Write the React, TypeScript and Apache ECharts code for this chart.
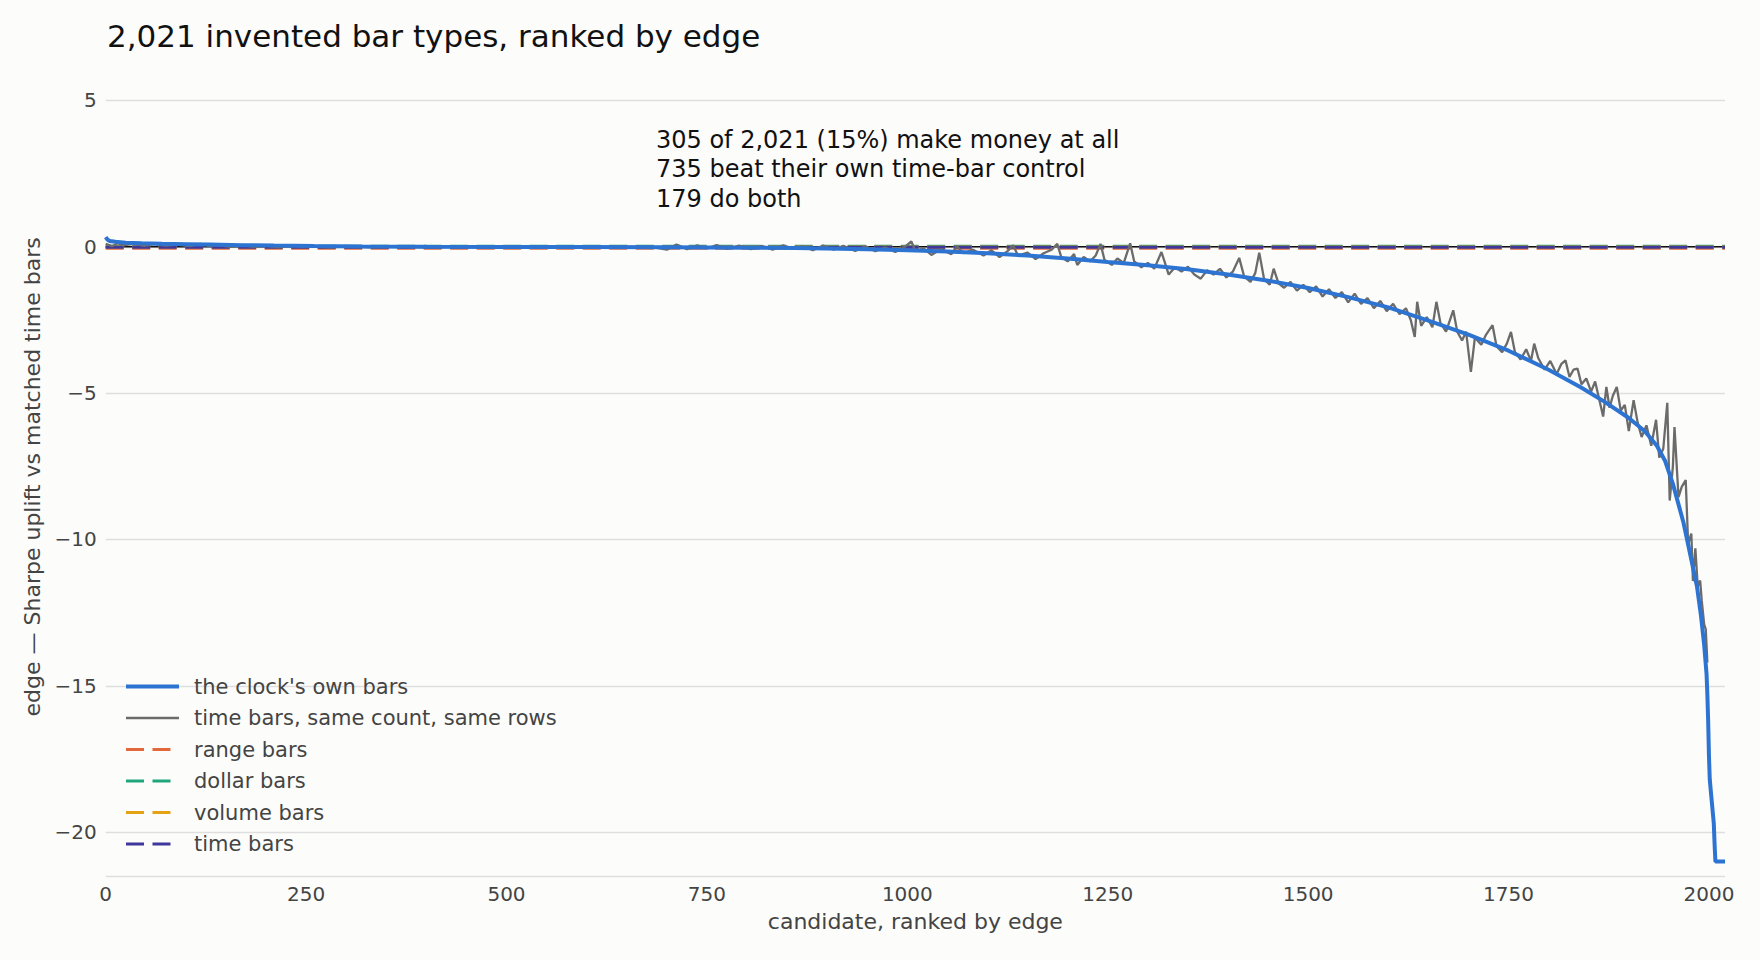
import React, { useEffect, useRef } from "react";
import * as echarts from "echarts";

// ---- data ----
const titleText = "2,021 invented bar types, ranked by edge";
const xAxisName = "candidate, ranked by edge";
const yAxisName = "edge \u2014 Sharpe uplift vs matched time bars";
const annotationLines = [
  "305 of 2,021 (15%) make money at all",
  "735 beat their own time-bar control",
  "179 do both",
];

const X_MIN = 0;
const X_MAX = 2020;
const X_STEP = 250;
const Y_MIN = -21.52;
const Y_MAX = 5.8;

// the clock's own bars (ranked edge), [candidate, edge]
const clockOwnBars: [number, number][] = [
  [0, 0.33], [2, 0.25], [5, 0.2], [12, 0.17], [25, 0.14], [45, 0.12], [70, 0.1],
  [100, 0.09], [130, 0.075], [170, 0.055], [210, 0.04], [260, 0.025], [320, 0.01],
  [400, 0.0], [500, -0.005], [600, -0.01], [700, -0.02], [800, -0.03], [860, -0.045],
  [900, -0.06], [950, -0.085], [1000, -0.12], [1050, -0.16], [1100, -0.22],
  [1150, -0.3], [1200, -0.4], [1250, -0.52], [1300, -0.63], [1350, -0.77],
  [1400, -0.95], [1450, -1.16], [1500, -1.41], [1550, -1.72], [1600, -2.07],
  [1650, -2.52], [1700, -3.0], [1750, -3.55], [1800, -4.2], [1840, -4.8],
  [1870, -5.3], [1900, -5.85], [1920, -6.3], [1935, -6.8], [1945, -7.3],
  [1955, -8.1], [1962, -8.8], [1968, -9.4], [1975, -10.3], [1980, -10.95],
  [1985, -11.6], [1990, -12.6], [1994, -13.6], [1997, -14.6], [1998, -15.3],
  [1999, -16.2], [2000, -17.4], [2001, -18.2], [2003, -18.8], [2005, -19.4],
  [2006, -19.7], [2007, -20.4], [2008, -21.0], [2020, -21.0],
];

// time bars, same count, same rows, [candidate, edge]
const timeControl: [number, number][] = [
  [0, 0.1], [8, 0.02], [15, 0.12], [22, 0.05], [35, 0.1], [48, 0.03], [60, 0.09],
  [75, 0.04], [90, 0.07], [105, 0.02], [118, 0.1], [128, 0.03], [140, 0.06],
  [155, 0.0], [170, 0.05], [185, 0.0], [200, 0.04], [215, -0.02], [232, 0.06],
  [245, 0.0], [260, 0.03], [280, -0.03], [300, 0.02], [330, -0.02], [360, 0.01],
  [400, -0.02], [440, 0.01], [480, -0.03], [520, 0.0], [560, -0.03], [600, 0.0],
  [640, -0.04], [680, 0.0], [700, -0.1], [712, 0.08], [725, -0.08], [738, 0.05],
  [750, -0.06], [762, 0.06], [775, -0.07], [790, 0.04], [805, -0.08], [818, 0.03],
  [832, -0.1], [845, 0.05], [858, -0.07], [870, 0.02], [882, -0.12], [895, 0.04],
  [908, -0.1], [920, 0.03], [935, -0.14], [948, 0.02], [960, -0.15], [972, -0.02],
  [985, -0.18], [998, 0.02], [1005, 0.18], [1010, -0.15], [1020, -0.05],
  [1030, -0.28], [1042, -0.08], [1055, -0.25], [1062, 0.02], [1070, -0.22],
  [1082, -0.1], [1095, -0.3], [1105, -0.12], [1115, -0.35], [1125, -0.15],
  [1132, 0.05], [1138, -0.3], [1150, -0.2], [1160, -0.42], [1170, -0.22],
  [1180, -0.1], [1187, 0.1], [1192, -0.35], [1200, -0.5], [1208, -0.25],
  [1212, -0.62], [1220, -0.35], [1228, -0.5], [1235, -0.3], [1241, 0.1],
  [1246, -0.45], [1255, -0.62], [1262, -0.4], [1270, -0.55], [1278, 0.12],
  [1283, -0.5], [1292, -0.7], [1300, -0.55], [1308, -0.75], [1317, -0.18],
  [1322, -0.6], [1326, -0.95], [1334, -0.7], [1342, -0.85], [1350, -0.68],
  [1358, -0.95], [1366, -1.09], [1374, -0.8], [1382, -0.95], [1390, -0.75],
  [1398, -1.05], [1406, -0.85], [1414, -0.38], [1420, -1.0], [1428, -1.2],
  [1434, -0.9], [1439, -0.2], [1445, -1.1], [1452, -1.3], [1457, -0.75],
  [1463, -1.25], [1470, -1.4], [1478, -1.2], [1486, -1.5], [1494, -1.3],
  [1502, -1.55], [1510, -1.35], [1518, -1.7], [1526, -1.45], [1534, -1.75],
  [1542, -1.55], [1550, -1.9], [1558, -1.6], [1566, -1.95], [1574, -1.75],
  [1582, -2.1], [1590, -1.85], [1598, -2.2], [1606, -1.95], [1614, -2.3],
  [1622, -2.1], [1628, -2.5], [1633, -3.08], [1636, -1.88], [1641, -2.7],
  [1648, -2.4], [1655, -2.75], [1660, -1.88], [1665, -2.6], [1672, -2.9],
  [1681, -2.17], [1686, -2.9], [1692, -3.2], [1697, -2.9], [1703, -4.27],
  [1708, -3.1], [1716, -3.35], [1722, -3.0], [1730, -2.68], [1735, -3.4],
  [1742, -3.6], [1748, -3.3], [1753, -2.91], [1758, -3.6], [1765, -3.85],
  [1772, -3.5], [1778, -3.9], [1782, -3.31], [1787, -3.8], [1795, -4.2],
  [1802, -3.9], [1810, -4.35], [1816, -4.0], [1821, -3.88], [1826, -4.45],
  [1831, -4.2], [1836, -4.16], [1841, -4.7], [1847, -4.5], [1853, -4.95],
  [1858, -4.6], [1863, -5.2], [1868, -5.8], [1872, -4.79], [1876, -5.5],
  [1880, -5.1], [1885, -4.79], [1890, -5.6], [1895, -5.4], [1900, -6.3],
  [1906, -5.24], [1911, -6.0], [1916, -6.5], [1922, -6.1], [1928, -6.8],
  [1934, -5.91], [1938, -7.2], [1943, -6.9], [1948, -5.33], [1951, -8.67],
  [1955, -7.5], [1957, -6.16], [1962, -8.55], [1966, -8.2], [1971, -7.97],
  [1974, -10.14], [1978, -9.8], [1980, -11.42], [1983, -10.3], [1986, -11.6],
  [1989, -11.4], [1991, -12.1], [1994, -12.9], [1996, -13.07], [1998, -14.2],
];

// reference bar types (flat edge across all candidates)
const barTypeNames = ["range bars", "dollar bars", "volume bars", "time bars"];
const barTypeEdges = [-0.05, 0.02, -0.01, -0.02];
const zeroEdge = 0;

const seriesNames = {
  clock: "the clock's own bars",
  control: "time bars, same count, same rows",
};

// ---- styles ----
const FONT = "DejaVu Sans";
const BG = "#fcfcfa";
const CLOCK_COLOR = "#2d74d2";
const CONTROL_COLOR = "#6b6b6b";
const barTypeColors = ["#e2673b", "#1fa67c", "#e3a315", "#3f379c"];
const DASH = [18, 8.5];

const fmtMinus = (v: number) => String(v).replace("-", "\u2212");

export default function App() {
  const ref = useRef<HTMLDivElement>(null);

  useEffect(() => {
    document.body.style.margin = "0";
    document.body.style.background = BG;
    if (!ref.current) return;
    const chart = echarts.init(ref.current, undefined, { renderer: "svg" });

    const flat = (v: number) => [
      [X_MIN, v],
      [X_MAX, v],
    ];

    const option: any = {
      animation: false,
      backgroundColor: BG,
      textStyle: { fontFamily: FONT },
      title: {
        text: titleText,
        left: 102,
        top: 15.5,
        textStyle: { fontFamily: FONT, fontSize: 31, fontWeight: "normal", color: "#111111" },
      },
      grid: { left: 105.7, right: 35, top: 77, bottom: 83.3, containLabel: false },
      legend: {
        orient: "vertical",
        left: 124,
        top: 676,
        padding: 0,
        itemWidth: 53,
        itemHeight: 20,
        itemGap: 10.5,
        itemStyle: { opacity: 0 },
        data: [
          { name: seriesNames.clock, lineStyle: { color: CLOCK_COLOR, width: 4, type: "solid" } },
          { name: seriesNames.control, lineStyle: { color: CONTROL_COLOR, width: 2.4, type: "solid" } },
          ...barTypeNames.map((n, i) => ({
            name: n,
            lineStyle: { color: barTypeColors[i], width: 3, type: DASH },
          })),
        ],
        textStyle: {
          fontFamily: FONT,
          fontSize: 21,
          color: "#444444",
          lineHeight: 20,
          padding: [0, 0, 0, 10],
        },
        backgroundColor: "transparent",
      },
      xAxis: {
        type: "value",
        min: X_MIN,
        max: X_MAX,
        interval: X_STEP,
        name: xAxisName,
        nameLocation: "middle",
        nameGap: 34,
        nameTextStyle: { fontFamily: FONT, fontSize: 22, color: "#444444" },
        axisLine: { show: false },
        axisTick: { show: false },
        splitLine: { show: false },
        axisLabel: {
          fontFamily: FONT,
          fontSize: 20,
          color: "#444444",
          margin: 7,
          showMaxLabel: false,
          formatter: (v: number) => fmtMinus(v),
        },
      },
      yAxis: {
        type: "value",
        min: Y_MIN,
        max: Y_MAX,
        splitNumber: 5,
        name: yAxisName,
        nameLocation: "middle",
        nameRotate: 90,
        nameGap: 55,
        nameTextStyle: { fontFamily: FONT, fontSize: 22, color: "#444444" },
        axisLine: { show: false },
        axisTick: { show: false },
        splitLine: {
          show: true,
          showMinLine: true,
          showMaxLine: false,
          lineStyle: { color: "#dedede", width: 1.3 },
        },
        axisLabel: {
          fontFamily: FONT,
          fontSize: 20,
          color: "#444444",
          margin: 9,
          showMinLabel: false,
          showMaxLabel: false,
          formatter: (v: number) => fmtMinus(v),
        },
      },
      graphic: [
        {
          type: "text",
          left: 656,
          top: 125.5,
          silent: true,
          style: {
            text: annotationLines.join("\n"),
            fontFamily: FONT,
            fontSize: 24,
            lineHeight: 29.2,
            fill: "#111111",
          },
        },
      ],
      series: [
        {
          name: "zero",
          type: "line",
          data: flat(zeroEdge),
          showSymbol: false,
          symbol: "none",
          silent: true,
          z: 1,
          lineStyle: { color: "#111111", width: 1.5 },
        },
        ...barTypeNames.map((n, i) => ({
          name: n,
          type: "line",
          data: flat(barTypeEdges[i]),
          showSymbol: false,
          symbol: "none",
          z: 2 + i,
          color: barTypeColors[i],
          lineStyle: { color: barTypeColors[i], width: 3, type: DASH },
        })),
        {
          name: seriesNames.control,
          type: "line",
          data: timeControl,
          showSymbol: false,
          symbol: "none",
          z: 7,
          color: CONTROL_COLOR,
          lineStyle: { color: CONTROL_COLOR, width: 2.3 },
        },
        {
          name: seriesNames.clock,
          type: "line",
          data: clockOwnBars,
          showSymbol: false,
          symbol: "none",
          z: 8,
          color: CLOCK_COLOR,
          lineStyle: { color: CLOCK_COLOR, width: 4 },
        },
      ],
    };

    chart.setOption(option);
    return () => chart.dispose();
  }, []);

  return <div ref={ref} style={{ width: 1760, height: 960, background: BG }} />;
}
